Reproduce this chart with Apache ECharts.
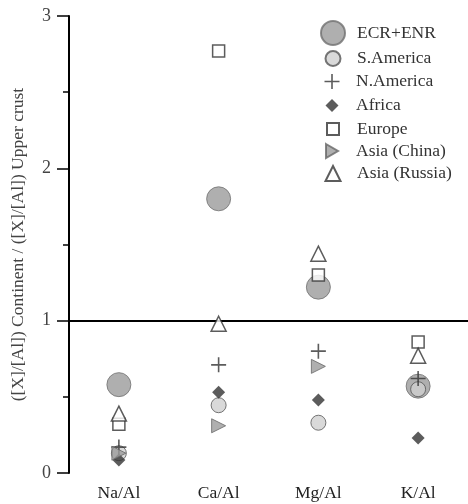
<!DOCTYPE html>
<html>
<head>
<meta charset="utf-8">
<script src="https://cdn.jsdelivr.net/npm/echarts@6/dist/echarts.min.js"></script>
<style>html,body{margin:0;padding:0;background:#fff;}#c{width:468px;height:504px;}</style>
</head>
<body>
<div id="c"></div>
<script>
const categories = ['Na/Al', 'Ca/Al', 'Mg/Al', 'K/Al'];
const ecrEnr = [0.58, 1.80, 1.22, 0.57];
const sAmerica = [0.13, 0.445, 0.33, 0.55];
const nAmerica = [0.17, 0.71, 0.80, 0.62];
const africa = [0.085, 0.53, 0.48, 0.23];
const europe = [0.32, 2.77, 1.30, 0.86];
const asiaChina = [0.13, 0.31, 0.70, null];
const asiaRussia = [0.39, 0.98, 1.44, 0.77];
const yTicks = [0, 1, 2, 3];

const FONT = 'Liberation Serif';
const plusPath = 'path://M6.25,0h1.5v6.25h6.25v1.5h-6.25v6.25h-1.5v-6.25h-6.25v-1.5h6.25z';
const rightTri = 'path://M0,0L12,7L0,14z';

const defs = [
  {name: 'ECR+ENR', data: ecrEnr, symbol: 'circle', size: 24, style: {color: '#9b9b9b', borderColor: '#707070', borderWidth: 1}},
  {name: 'S.America', data: sAmerica, symbol: 'circle', size: 15, style: {color: '#cfcfcf', borderColor: '#555', borderWidth: 1}},
  {name: 'N.America', data: nAmerica, symbol: plusPath, size: 15, style: {color: '#333', borderWidth: 0}},
  {name: 'Africa', data: africa, symbol: 'diamond', size: 13, style: {color: '#333', borderWidth: 0}},
  {name: 'Europe', data: europe, symbol: 'rect', size: 12, style: {color: '#fff', borderColor: '#333', borderWidth: 1.5}},
  {name: 'Asia (China)', data: asiaChina, symbol: rightTri, size: 14, style: {color: '#9b9b9b', borderColor: '#666', borderWidth: 1}},
  {name: 'Asia (Russia)', data: asiaRussia, symbol: 'triangle', size: 15, style: {color: '#fff', borderColor: '#333', borderWidth: 1.5}}
];
const rowCenters = [32, 57, 80, 103, 126, 149, 172];
const iconCenterX = 332, textLeftX = 356;

const series = defs.map((d, i) => ({
  name: d.name, type: 'scatter', data: d.data,
  symbol: d.symbol, symbolSize: d.size, itemStyle: d.style,
  z: 2 + i,
  markLine: i === 0 ? {
    silent: true, symbol: 'none', label: {show: false},
    lineStyle: {color: '#000', width: 2, type: 'solid'},
    data: [{yAxis: 1}]
  } : undefined
}));

const legends = defs.map((d, i) => ({
  data: [d.name], orient: 'vertical', padding: 0,
  left: iconCenterX - d.size / 2, top: rowCenters[i] - d.size / 2,
  itemWidth: d.size, itemHeight: d.size,
  textStyle: {fontFamily: FONT, fontSize: 17.5, color: '#333',
    padding: [0, 0, 0, textLeftX - (iconCenterX + d.size / 2 + 5)]},
  selectedMode: false
}));

const chart = echarts.init(document.getElementById('c'), null, {renderer: 'canvas'});
chart.setOption({
  animation: false,
  backgroundColor: '#fff',
  grid: {left: 69, right: 0, top: 16, bottom: 31},
  legend: legends,
  xAxis: {
    type: 'category', data: categories, boundaryGap: true,
    axisLine: {show: false}, axisTick: {show: false},
    axisLabel: {fontFamily: FONT, fontSize: 17.5, color: '#222', margin: 11}
  },
  yAxis: {
    type: 'value', min: 0, max: 3, interval: 1,
    name: '([X]/[Al]) Continent / ([X]/[Al]) Upper crust',
    nameLocation: 'middle', nameGap: 42, nameRotate: 90, nameMoveOverlap: false,
    nameTextStyle: {fontFamily: FONT, fontSize: 17.5, color: '#444'},
    axisLine: {show: true, lineStyle: {color: '#000', width: 2}},
    axisTick: {show: true, inside: false, length: 12, lineStyle: {color: '#000', width: 1.5}},
    minorTick: {show: true, splitNumber: 2, length: 6, lineStyle: {color: '#000', width: 1.5}},
    splitLine: {show: false},
    axisLabel: {fontFamily: FONT, fontSize: 18, color: '#444', margin: 18,
      formatter: v => yTicks.indexOf(v) >= 0 ? String(v) : ''}
  },
  series: series
});
</script>
</body>
</html>
